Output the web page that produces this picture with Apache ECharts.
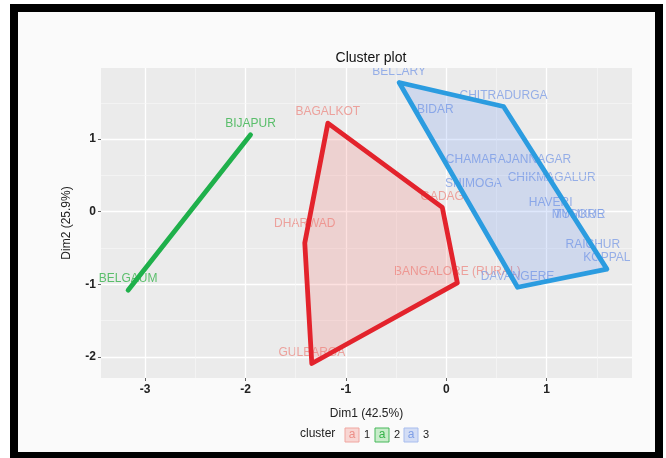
<!DOCTYPE html>
<html><head><meta charset="utf-8">
<script src="https://cdn.jsdelivr.net/npm/echarts@6/dist/echarts.min.js"></script>
<style>html,body{margin:0;padding:0;background:#fff}#c{width:666px;height:458px}</style>
</head><body><div id="c"></div>
<script>
// ---- data ----
var xTicks = [-3, -2, -1, 0, 1];
var yTicks = [-2, -1, 0, 1];
var xMinor = [-2.5, -1.5, -0.5, 0.5, 1.5];
var yMinor = [-1.5, -0.5, 0.5, 1.5];

var cluster1Names = ['BAGALKOT', 'DHARWAD', 'GADAG', 'BANGALORE (RURAL)', 'GULBARGA'];
var cluster1X = [-1.18, -1.41, -0.04, 0.11, -1.34];
var cluster1Y = [1.22, -0.31, 0.06, -0.98, -2.09];
var hull1X = [-1.18, -0.04, 0.11, -1.34, -1.41];
var hull1Y = [1.22, 0.06, -0.98, -2.09, -0.43];

var cluster2Names = ['BIJAPUR', 'BELGAUM'];
var cluster2X = [-1.95, -3.17];
var cluster2Y = [1.06, -1.08];
var hull2X = [-1.95, -3.17];
var hull2Y = [1.06, -1.08];

var cluster3Names = ['BELLARY', 'CHITRADURGA', 'BIDAR', 'CHAMARAJANNAGAR', 'SHIMOGA', 'CHIKMAGALUR',
                     'HAVERI', 'MYSORE', 'TUMKUR', 'RAICHUR', 'KOPPAL', 'DAVANGERE'];
var cluster3X = [-0.47, 0.57, -0.11, 0.62, 0.27, 1.05, 1.04, 1.31, 1.33, 1.46, 1.60, 0.71];
var cluster3Y = [1.78, 1.45, 1.26, 0.57, 0.23, 0.32, -0.02, -0.19, -0.19, -0.60, -0.79, -1.04];
var hull3X = [-0.47, 0.57, 1.60, 0.71];
var hull3Y = [1.78, 1.45, -0.79, -1.04];

var legendLabels = ['1', '2', '3'];

// ---- build ----
function zip(a, b) { return a.map(function (v, i) { return [v, b[i]]; }); }
function named(names, xs, ys) { return names.map(function (n, i) { return { name: n, value: [xs[i], ys[i]] }; }); }

var FONT = 'Liberation Sans, Arial, sans-serif';
var colors = [
  { line: '#e3232c', fill: 'rgba(246,120,115,0.22)', text: '#ec8f88', box: '#f8d6d3', boxLine: '#f0a6a0' },
  { line: '#1fb04b', fill: 'rgba(0,186,56,0.2)', text: '#36b34b', box: '#c8ecca', boxLine: '#47b85a' },
  { line: '#2b9ce0', fill: 'rgba(97,140,240,0.2)', text: '#7f9fe6', box: '#d3ddf5', boxLine: '#a8bdee' }
];

function hullSeries(hx, hy, c, closed) {
  return {
    type: 'custom', z: 5, data: zip(hx, hy), encode: { x: 0, y: 1 }, silent: true,
    renderItem: function (params, api) {
      if (params.dataIndex !== 0) return null;
      var pts = hx.map(function (v, i) { return api.coord([v, hy[i]]); });
      return {
        type: closed ? 'polygon' : 'polyline',
        shape: { points: pts },
        style: { fill: closed ? c.fill : null, stroke: c.line, lineWidth: 4.8, lineJoin: 'round', lineCap: 'round' }
      };
    }
  };
}
function labelSeries(names, xs, ys, c) {
  return {
    type: 'scatter', z: 4, symbolSize: 0, silent: true, data: named(names, xs, ys),
    label: { show: true, position: 'inside', offset: [0, -11], formatter: '{b}',
      color: c.text, fontSize: 12, fontFamily: FONT }
  };
}

var minorLines = xMinor.map(function (v) { return { xAxis: v }; })
  .concat(yMinor.map(function (v) { return { yAxis: v }; }));

var legendGraphics = [
  { type: 'text', left: 300, top: 428, style: { text: 'cluster', fontSize: 12, fill: '#222', fontFamily: FONT } }
];
var boxX = [345, 375, 404];
legendLabels.forEach(function (lab, i) {
  var c = colors[i];
  legendGraphics.push({ type: 'rect', shape: { x: boxX[i], y: 428, width: 14, height: 14 },
    style: { fill: c.box, stroke: c.boxLine, lineWidth: 1 }, z: 10 });
  legendGraphics.push({ type: 'text', x: boxX[i] + 7, y: 435, z: 11,
    style: { text: 'a', fill: c.text, fontSize: 12, align: 'center', verticalAlign: 'middle', fontFamily: FONT } });
  legendGraphics.push({ type: 'text', x: boxX[i] + 19, y: 435, z: 11,
    style: { text: lab, fill: '#222', fontSize: 11, align: 'left', verticalAlign: 'middle', fontFamily: FONT } });
});

var chart = echarts.init(document.getElementById('c'), null, { renderer: 'canvas' });
chart.setOption({
  animation: false,
  backgroundColor: '#ffffff',
  textStyle: { fontFamily: FONT },
  title: { text: 'Cluster plot', left: 366, top: 46, textAlign: 'center', z: 120,
    textStyle: { fontSize: 14, fontWeight: 'normal', color: '#111', fontFamily: FONT } },
  graphic: [
    { type: 'rect', z: -10, shape: { x: 14, y: 8, width: 645, height: 448 },
      style: { fill: '#fafafa', stroke: '#000', lineWidth: 8 } },
    { type: 'rect', z: 100, shape: { x: 101, y: 63, width: 531, height: 5 }, style: { fill: '#fafafa' } }
  ].concat(legendGraphics),
  grid: { left: 101, right: 34, top: 68, bottom: 80, show: true, backgroundColor: '#ebebeb', borderWidth: 0 },
  xAxis: {
    type: 'value', min: -3.44, max: 1.85,
    name: 'Dim1 (42.5%)', nameLocation: 'middle', nameGap: 30,
    nameTextStyle: { fontSize: 12, color: '#222' },
    axisLine: { show: false, onZero: false },
    axisTick: { show: true, length: 3, customValues: xTicks, lineStyle: { color: '#666' } },
    axisLabel: { customValues: xTicks, fontSize: 12, fontWeight: 'bold', color: '#222', margin: 6 },
    splitLine: { show: true, lineStyle: { color: '#ffffff', width: 1.3 } }
  },
  yAxis: {
    type: 'value', min: -2.29, max: 1.98,
    name: 'Dim2 (25.9%)', nameLocation: 'middle', nameGap: 28,
    nameTextStyle: { fontSize: 12, color: '#222' },
    axisLine: { show: false, onZero: false },
    axisTick: { show: true, length: 3, customValues: yTicks, lineStyle: { color: '#666' } },
    axisLabel: { customValues: yTicks, fontSize: 12, fontWeight: 'bold', color: '#222', margin: 5 },
    splitLine: { show: true, lineStyle: { color: '#ffffff', width: 1.3 } }
  },
  series: [
    { type: 'scatter', z: 1, data: [], silent: true,
      markLine: { silent: true, symbol: 'none', label: { show: false }, animation: false,
        lineStyle: { color: '#f6f6f6', width: 0.7, type: 'solid' }, data: minorLines } },
    hullSeries(hull1X, hull1Y, colors[0], true),
    hullSeries(hull2X, hull2Y, colors[1], false),
    hullSeries(hull3X, hull3Y, colors[2], true),
    labelSeries(cluster1Names, cluster1X, cluster1Y, colors[0]),
    labelSeries(cluster2Names, cluster2X, cluster2Y, colors[1]),
    labelSeries(cluster3Names, cluster3X, cluster3Y, colors[2])
  ]
});
</script></body></html>
